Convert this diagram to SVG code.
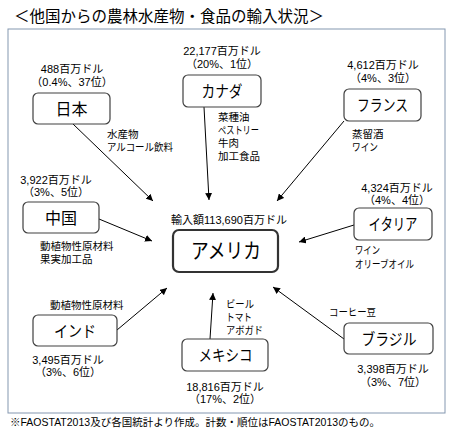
<svg xmlns="http://www.w3.org/2000/svg" width="455" height="431" viewBox="0 0 455 431">
<defs>
<marker id="ah" viewBox="0 0 10 10" refX="10" refY="5" markerWidth="7" markerHeight="7" orient="auto" markerUnits="userSpaceOnUse">
<path d="M0,0 L10,5 L0,10 z" fill="#000"/>
</marker>
</defs>
<style>
text{font-family:"Liberation Sans","Noto Sans CJK JP",sans-serif;fill:#000}
.jp{font-family:"Noto Sans CJK JP",sans-serif}
.node{fill:#fff;stroke:#404040;stroke-width:1.2}
.main{fill:#fff;stroke:#333;stroke-width:2.2}
.nt{font-size:16px;text-anchor:middle}
.amt{font-size:11px;text-anchor:middle}
.prod{font-size:10.5px}
.conn{stroke:#000;stroke-width:1;fill:none;marker-end:url(#ah)}
</style>
<rect width="455" height="431" fill="#fff"/>
<text x="14" y="22" style="font-size:15.5px" class="jp">＜他国からの農林水産物・食品の輸入状況＞</text>
<rect x="8" y="29" width="437" height="384" fill="none" stroke="#8497b0" stroke-width="1"/>

<g id="connectors">
<line class="conn" x1="73" y1="124" x2="153" y2="201"/>
<line class="conn" x1="204" y1="107" x2="209" y2="200"/>
<line class="conn" x1="344" y1="121" x2="277" y2="201"/>
<line class="conn" x1="99" y1="219" x2="152" y2="241"/>
<line class="conn" x1="354" y1="225" x2="299" y2="242"/>
<line class="conn" x1="117" y1="330" x2="167" y2="288"/>
<line class="conn" x1="210" y1="339" x2="213" y2="293"/>
<line class="conn" x1="344" y1="339" x2="273" y2="287"/>
</g>

<g id="usa">
<text x="229" y="224" class="amt">輸入額113,690百万ドル</text>
<rect x="173" y="230" width="105" height="42" rx="6" class="main"/>
<text x="226" y="258" class="nt" style="font-size:21px" textLength="70" lengthAdjust="spacingAndGlyphs">アメリカ</text>
</g>

<g id="japan">
<text x="72" y="73" class="amt">488百万ドル</text>
<text x="72" y="86" class="amt">（0.4%、37位）</text>
<rect x="33" y="93" width="77" height="31" rx="5" class="node"/>
<text x="71.5" y="115" class="nt">日本</text>
<text x="107" y="138" class="prod">水産物</text>
<text x="107" y="151" class="prod" textLength="66" lengthAdjust="spacingAndGlyphs">アルコール飲料</text>
</g>

<g id="canada">
<text x="222" y="55" class="amt">22,177百万ドル</text>
<text x="222" y="68" class="amt">（20%、1位）</text>
<rect x="183" y="75" width="78" height="32" rx="5" class="node"/>
<text x="222" y="97" class="nt" textLength="41" lengthAdjust="spacingAndGlyphs">カナダ</text>
<text x="218" y="121" class="prod">菜種油</text>
<text x="218" y="134" class="prod" textLength="41" lengthAdjust="spacingAndGlyphs">ペストリー</text>
<text x="218" y="147" class="prod">牛肉</text>
<text x="218" y="160" class="prod">加工食品</text>
</g>

<g id="france">
<text x="383" y="69" class="amt">4,612百万ドル</text>
<text x="383" y="82" class="amt">（4%、3位）</text>
<rect x="344" y="89" width="77" height="32" rx="5" class="node"/>
<text x="382.5" y="111" class="nt" textLength="51" lengthAdjust="spacingAndGlyphs">フランス</text>
<text x="352" y="138" class="prod">蒸留酒</text>
<text x="352" y="151" class="prod" textLength="26" lengthAdjust="spacingAndGlyphs">ワイン</text>
</g>

<g id="china">
<text x="56" y="184" class="amt">3,922百万ドル</text>
<text x="56" y="196" class="amt">（3%、5位）</text>
<rect x="23" y="202" width="76" height="31" rx="5" class="node"/>
<text x="61" y="224" class="nt">中国</text>
<text x="40" y="250" class="prod">動植物性原材料</text>
<text x="40" y="263" class="prod">果実加工品</text>
</g>

<g id="italy">
<text x="397" y="192" class="amt">4,324百万ドル</text>
<text x="397" y="204" class="amt">（4%、4位）</text>
<rect x="354" y="208" width="78" height="32" rx="5" class="node"/>
<text x="393" y="230" class="nt" textLength="49" lengthAdjust="spacingAndGlyphs">イタリア</text>
<text x="355" y="254" class="prod" textLength="25" lengthAdjust="spacingAndGlyphs">ワイン</text>
<text x="355" y="268" class="prod" textLength="59" lengthAdjust="spacingAndGlyphs">オリーブオイル</text>
</g>

<g id="india">
<text x="50" y="309" class="prod">動植物性原材料</text>
<rect x="33" y="315" width="84" height="31" rx="5" class="node"/>
<text x="75" y="337" class="nt" textLength="42" lengthAdjust="spacingAndGlyphs">インド</text>
<text x="68" y="364" class="amt">3,495百万ドル</text>
<text x="68" y="376" class="amt">（3%、6位）</text>
</g>

<g id="mexico">
<text x="226" y="308" class="prod" textLength="28" lengthAdjust="spacingAndGlyphs">ビール</text>
<text x="226" y="321" class="prod" textLength="26" lengthAdjust="spacingAndGlyphs">トマト</text>
<text x="226" y="334" class="prod" textLength="37" lengthAdjust="spacingAndGlyphs">アボガド</text>
<rect x="182" y="339" width="86" height="32" rx="5" class="node"/>
<text x="225.5" y="361" class="nt" textLength="54" lengthAdjust="spacingAndGlyphs">メキシコ</text>
<text x="225" y="391" class="amt">18,816百万ドル</text>
<text x="225" y="403" class="amt">（17%、2位）</text>
</g>

<g id="brazil">
<text x="329" y="316" class="prod" textLength="47" lengthAdjust="spacingAndGlyphs">コーヒー豆</text>
<rect x="344" y="323" width="89" height="31" rx="5" class="node"/>
<text x="389" y="345" class="nt" textLength="55" lengthAdjust="spacingAndGlyphs">ブラジル</text>
<text x="393" y="373" class="amt">3,398百万ドル</text>
<text x="393" y="386" class="amt">（3%、7位）</text>
</g>

<text x="10" y="426" style="font-size:10.5px">※FAOSTAT2013及び各国統計より作成。計数・順位はFAOSTAT2013のもの。</text>
</svg>
